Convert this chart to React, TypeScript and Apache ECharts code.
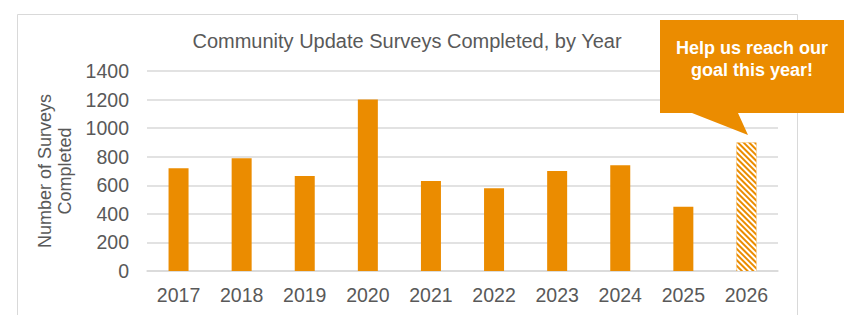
import React, { useEffect, useRef } from "react";
import * as echarts from "echarts";

const years = ["2017", "2018", "2019", "2020", "2021", "2022", "2023", "2024", "2025", "2026"];
const surveys = [720, 790, 665, 1200, 630, 580, 700, 740, 450, 900];
const goalYear = "2026";
const titleText = "Community Update Surveys Completed, by Year";
const yAxisName = "Number of Surveys\nCompleted";
const calloutText = "Help us reach our\ngoal this year!";

const ORANGE = "#EB8C00";
const GREY = "#595959";
const LINE = "#D9D9D9";
const FONT = "'Liberation Sans', Arial, sans-serif";

export default function App() {
  const ref = useRef<HTMLDivElement>(null);
  useEffect(() => {
    if (!ref.current) return;
    const chart = echarts.init(ref.current, undefined, { renderer: "svg" });
    const data = surveys.map((v, i) =>
      years[i] === goalYear
        ? {
            value: v,
            itemStyle: {
              color: ORANGE,
              decal: {
                symbol: "rect",
                symbolSize: 1,
                color: "#ffffff",
                dashArrayX: [1, 0],
                dashArrayY: [2, 2],
                rotation: Math.PI / 4,
              },
            },
          }
        : { value: v }
    );
    chart.setOption({
      animation: false,
      backgroundColor: "#ffffff",
      title: {
        text: titleText,
        left: 402,
        textAlign: "center",
        top: 26,
        textStyle: { fontFamily: FONT, fontSize: 20, fontWeight: "normal", color: GREY },
      },
      grid: { left: 147, right: 75, top: 71, bottom: 55 },
      xAxis: {
        type: "category",
        data: years,
        axisLine: { lineStyle: { color: LINE, width: 1.5 } },
        axisTick: { show: false },
        axisLabel: { fontFamily: FONT, fontSize: 19.5, color: GREY, margin: 14 },
      },
      yAxis: {
        type: "value",
        min: 0,
        max: 1400,
        interval: 200,
        name: yAxisName,
        nameLocation: "middle",
        nameGap: 65,
        nameRotate: 90,
        nameTextStyle: { fontFamily: FONT, fontSize: 18, color: GREY, lineHeight: 20 },
        axisLine: { show: false },
        axisTick: { show: false },
        axisLabel: {
          fontFamily: FONT,
          fontSize: 19.5,
          color: GREY,
          margin: 18,
          formatter: (v: number) => String(v),
        },
        splitLine: { lineStyle: { color: LINE, width: 1.5 } },
      },
      series: [
        {
          type: "bar",
          data,
          barWidth: 20,
          itemStyle: { color: ORANGE },
        },
      ],
      graphic: [
        {
          type: "polyline",
          shape: { points: [[17.5, 315], [17.5, 14.5], [797.5, 14.5], [797.5, 315]] },
          style: { stroke: LINE, fill: null, lineWidth: 1 },
          silent: true,
        },
        {
          type: "polygon",
          shape: {
            points: [
              [660, 20],
              [844, 20],
              [844, 113],
              [738, 113],
              [748, 135],
              [692, 113],
              [660, 113],
            ],
          },
          style: { fill: ORANGE },
          z: 100,
        },
        {
          type: "text",
          x: 752,
          y: 59,
          z: 101,
          style: {
            text: calloutText,
            fill: "#ffffff",
            font: `bold 18px ${FONT}`,
            align: "center",
            verticalAlign: "middle",
            lineHeight: 22,
          },
        },
      ],
    });
    return () => chart.dispose();
  }, []);
  return (
    <div
      ref={ref}
      style={{ position: "fixed", left: 0, top: 0, width: 853, height: 326 }}
    />
  );
}
